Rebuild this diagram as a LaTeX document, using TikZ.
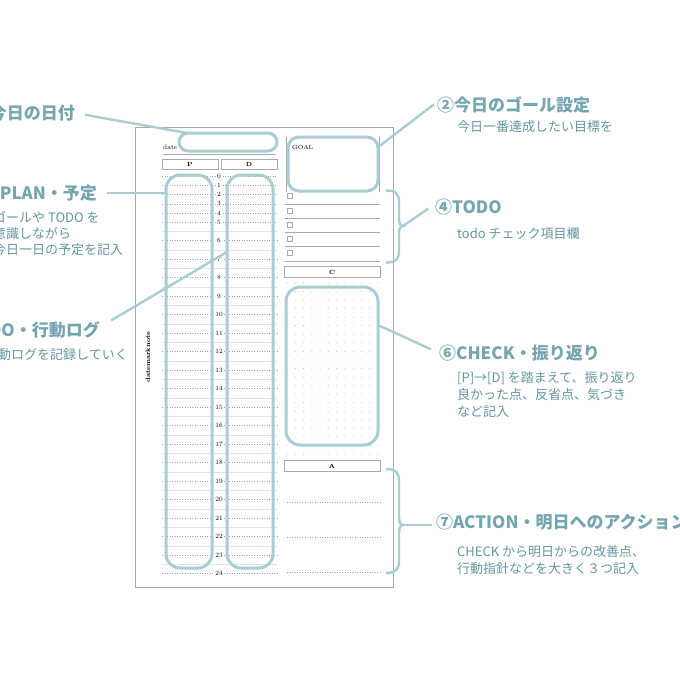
\documentclass[tikz,border=0pt]{standalone}
\usepackage{fontspec}
\newfontfamily\jp{Noto Sans CJK JP}
\usetikzlibrary{positioning,calc}
\definecolor{pill}{RGB}{168,205,211}
\definecolor{head}{RGB}{116,165,176}
\definecolor{subtxt}{RGB}{100,150,162}
\definecolor{rule}{RGB}{170,170,170}
\tikzset{
    pillbox/.style={draw=pill, line width=3pt, rounded corners=#1, inner sep=0pt},
    pillbox/.default={9pt},
    link/.style={draw=pill, line width=2.4pt},
    hdbox/.style={draw=rule, line width=0.6pt, inner sep=0pt, minimum height=10.5pt, font=\fontsize{6}{6}\selectfont\bfseries},
    heading/.style={inner sep=0pt, text=head, font=\jp\bfseries\fontsize{17}{17}\selectfont},
    subline/.style={inner sep=0pt, text=subtxt, font=\jp\fontsize{13}{13}\selectfont},
    hourline/.style={draw=gray!75, dotted, line width=0.5pt},
    halfline/.style={draw=gray!22, line width=0.4pt},
    hourlbl/.style={inner sep=0pt, font=\fontsize{6.5}{6.5}\selectfont}
}
\begin{document}
\begin{tikzpicture}[x=1pt, y=-1pt]
    \useasboundingbox (0,0) rectangle (680,680);
    \clip (0,0) rectangle (680,680);
    \fill[white] (0,0) rectangle (680,680);
    % page
    \draw[rule, line width=0.6pt] (135,127) rectangle (393,587);
    \node[anchor=base west, inner sep=0pt, font=\fontsize{6.5}{7}\selectfont] (datetxt) at (163,149) {date};
    \draw[rule, line width=1pt] (163,154) -- (276,154);
    \node[hdbox, minimum width=56pt] (Phead) at (190,164.5) {P};
    \node[hdbox, minimum width=56pt] (Dhead) at (249,164.5) {D};
    % hours
    \foreach \h in {0,...,5}{
        \draw[hourline] (162,{176+9.25*\h}) -- (215.5,{176+9.25*\h});
        \draw[hourline] (222.5,{176+9.25*\h}) -- (277,{176+9.25*\h});
        \node[hourlbl] at (219,{176+9.25*\h}) {\h};
    }
    \foreach \h in {6,...,24}{
        \draw[hourline] (162,{240.5+18.5*(\h-6)}) -- (214,{240.5+18.5*(\h-6)});
        \draw[hourline] (224,{240.5+18.5*(\h-6)}) -- (277,{240.5+18.5*(\h-6)});
        \node[hourlbl] at (219,{240.5+18.5*(\h-6)}) {\h};
    }
    \foreach \h in {5,...,23}{
        \draw[halfline] (162,{231.25+18.5*(\h-5)}) -- (277,{231.25+18.5*(\h-5)});
    }
    \node[rotate=90, inner sep=0pt, font=\fontsize{6.5}{7}\selectfont\bfseries] (brand) at (148,357) {datemarknote};
    % right column
    \draw[rule, line width=0.5pt] (286,137) -- (286,192);
    \draw[rule, line width=0.5pt] (379,137) -- (379,192);
    \node[anchor=base west, inner sep=0pt, font=\fontsize{6}{6}\selectfont] (goaltxt) at (292,149) {GOAL};
    \foreach \k in {0,...,4}{
        \draw[rule, line width=0.4pt] (287,{193.5+14.2*\k}) rectangle (292,{198.5+14.2*\k});
        \draw[rule, line width=0.5pt] (285,{204+14.2*\k}) -- (380,{204+14.2*\k});
    }
    \node[hdbox, minimum width=96pt] (Chead) at (332,272) {C};
    \foreach \i in {0,...,11}
        \foreach \j in {0,...,20}
            \fill[gray!45] ({287+8.27*\i},{283+8.55*\j}) circle (0.55pt);
    \node[hdbox, minimum width=96pt] (Ahead) at (332,466) {A};
    \foreach \y in {502,537,572}
        \draw[hourline] (287,\y) -- (380,\y);
    % pills
    \node[pillbox=9pt, minimum width=98pt, minimum height=18pt] (datepill) at (228,142) {};
    \node[pillbox=11pt, minimum width=90pt, minimum height=54pt] (goalpill) at (333,164) {};
    \node[pillbox=14pt, minimum width=46pt, minimum height=393pt] (Ppill) at (189,371.5) {};
    \node[pillbox=14pt, minimum width=46pt, minimum height=393pt] (Dpill) at (250,371.5) {};
    \node[pillbox=14pt, minimum width=92pt, minimum height=158pt] (checkpill) at (332,366) {};
    % braces
    \draw[link] (386,190.5) .. controls (396,190.5) and (399,194) .. (399,202) -- (399,218)
        .. controls (399,223) and (400,226) .. (403,226) coordinate (todotip)
        .. controls (400,226) and (399,229) .. (399,234) -- (399,251)
        .. controls (399,259) and (396,262.5) .. (386,262.5);
    \draw[link] (386,469) .. controls (396,469) and (399,473) .. (399,481) -- (399,516)
        .. controls (399,522) and (400,525) .. (403,525) coordinate (acttip)
        .. controls (400,525) and (399,528) .. (399,534) -- (399,561)
        .. controls (399,569) and (396,573) .. (386,573);
    % labels left
    \node[heading, anchor=east] (l1) at (75,113) {今日の日付};
    \node[heading, anchor=east] (l3) at (97,193) {PLAN・予定};
    \node[subline, anchor=west] (l3a) at (-7,217) {ゴールや TODO を};
    \node[subline, anchor=west] (l3b) at (-7,233.5) {意識しながら};
    \node[subline, anchor=west] (l3c) at (-7,250) {今日一日の予定を記入};
    \node[heading, anchor=east] (l5) at (100,330) {DO・行動ログ};
    \node[subline, anchor=east] (l5a) at (128,355) {行動ログを記録していく};
    % labels right
    \node[heading, anchor=west] (r2) at (437,105) {②今日のゴール設定};
    \node[subline, anchor=west] (r2a) at (457,127) {今日一番達成したい目標を};
    \node[heading, anchor=west] (r4) at (435,207) {④TODO};
    \node[subline, anchor=west] (r4a) at (457,234) {todo チェック項目欄};
    \node[heading, anchor=west] (r6) at (439,353) {⑥CHECK・振り返り};
    \node[subline, anchor=west] (r6a) at (457,378.5) {[P]→[D] を踏まえて、振り返り};
    \node[subline, anchor=west] (r6b) at (457,395) {良かった点、反省点、気づき};
    \node[subline, anchor=west] (r6c) at (457,411.5) {など記入};
    \node[heading, anchor=west] (r7) at (436,522) {⑦ACTION・明日へのアクション};
    \node[subline, anchor=west] (r7a) at (457,552) {CHECK から明日からの改善点、};
    \node[subline, anchor=west] (r7b) at (457,568.5) {行動指針などを大きく３つ記入};
    % connectors
    \coordinate (datecorner) at (187,133);
    \coordinate (goalcorner) at (377,148);
    \coordinate (dotip) at (227,252);
    \coordinate (checktip) at (378,325);
    \draw[link, shorten <=10pt] (l1.east) -- (datecorner);
    \draw[link, shorten <=10pt] (l3.east) -- (l3.east -| Ppill.west);
    \draw[link, shorten <=13pt] ([yshift=3pt]l5.east) -- (dotip);
    \draw[link, shorten >=4pt] (goalcorner) -- ([yshift=3pt]r2.west);
    \draw[link, shorten >=8pt] (todotip) -- ([yshift=3pt]r4.west);
    \draw[link, shorten >=9pt] (checktip) -- (r6.west);
    \draw[link, shorten >=4pt] (acttip) -- (acttip -| r7.west);
\end{tikzpicture}
\end{document}
